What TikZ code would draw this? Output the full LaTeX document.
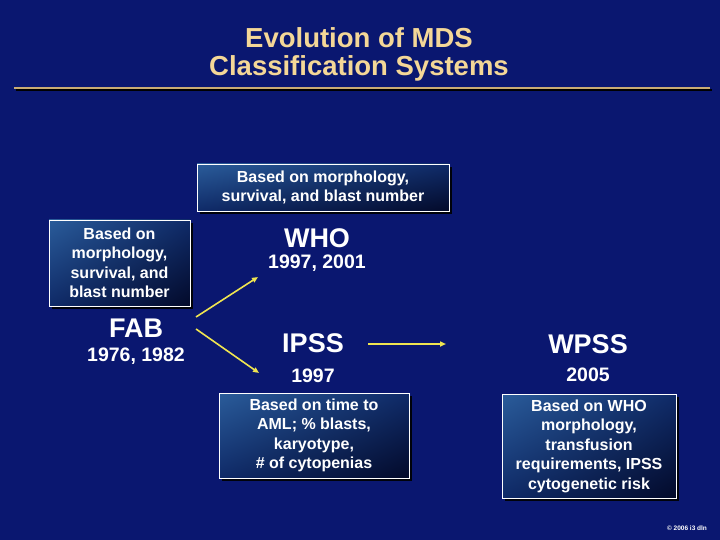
\documentclass[tikz,border=0pt]{standalone}
\usepackage{fontspec}
\setmainfont{Liberation Sans}
\usetikzlibrary{arrows.meta,shadows,shadings}
\definecolor{slideblue}{HTML}{0A1770}
\definecolor{boxlight}{HTML}{2A5C9A}
\definecolor{boxmid}{HTML}{0F2A68}
\definecolor{boxdark}{HTML}{030A2A}
\definecolor{titlegold}{HTML}{F4D797}
\definecolor{rulegold}{HTML}{C9AC74}
\definecolor{arrowyellow}{HTML}{F0E550}
\tikzset{
  title/.style={text=titlegold,font=\fontsize{27.5}{28}\selectfont\bfseries,align=center,inner sep=0},
  % the scheme names and their years
  scheme/.style={text=white,font=\fontsize{27}{30}\selectfont\bfseries,inner sep=0},
  year/.style={text=white,font=\fontsize{19.5}{22}\selectfont\bfseries,inner sep=0},
  % boxes: light in the upper left corner, nearly black in the lower right
  infobox/.style={rectangle,draw=white,line width=0.8pt,text=white,align=center,inner sep=0,
                  upper left=boxlight,upper right=boxmid,lower left=boxmid,lower right=boxdark,
                  font=\fontsize{16}{19.5}\selectfont\bfseries,
                  drop shadow={shadow xshift=3pt,shadow yshift=-3pt,fill=black,opacity=0.9}},
  flow/.style={-{Triangle[length=6pt,width=5pt]},draw=arrowyellow,line width=1.6pt},
  note/.style={text=white,font=\fontsize{6.5}{7}\selectfont\bfseries,inner sep=0},
}
\begin{document}
\begin{tikzpicture}[x=1pt,y=-1pt]
  \fill[slideblue] (0,0) rectangle (720,540);
  \useasboundingbox (0,0) rectangle (720,540);
  % title and its rule
  \node[title] (head) at (359,54) {Evolution of MDS\\Classification Systems};
  \draw[black,line width=2pt] (16,90) -- (712,90);
  \draw[rulegold,line width=2.4pt] (14,88) -- (710,88);

  \node[infobox,minimum width=252pt,minimum height=47pt] (whobox) at (323,187.5)
    {Based on morphology,\\ survival, and blast number};
  \node[infobox,minimum width=141pt,minimum height=86pt] (fabbox) at (119.5,263)
    {Based on\\morphology,\\survival, and\\blast number};
  \node[infobox,minimum width=190pt,minimum height=85pt] (ipssbox) at (314,435.5)
    {Based on time to\\ AML; \% blasts,\\karyotype,\\\# of cytopenias};
  \node[infobox,minimum width=174pt,minimum height=104pt] (wpssbox) at (589,446)
    {Based on WHO\\ morphology,\\transfusion\\requirements, IPSS\\cytogenetic risk};

  \node[scheme] (fab) at (136,328) {FAB};
  \node[year] (fabyr) at (136,356) {1976, 1982};
  \node[scheme] (who) at (317,238) {WHO};
  \node[year] (whoyr) at (317,263) {1997, 2001};
  \node[scheme] (ipss) at (313,343) {IPSS};
  \node[year] (ipssyr) at (313,375.5) {1997};
  \node[scheme] (wpss) at (588,344) {WPSS};
  \node[year] (wpssyr) at (588,375) {2005};

  % arrow ends
  \coordinate (fabup) at (196,317);
  \coordinate (fabdown) at (196,329);
  \coordinate (whoin) at (258,277);
  \coordinate (ipssin) at (259,373);
  \coordinate (ipssout) at (368,344);
  \coordinate (wpssin) at (446,344);
  \draw[flow] (fabup) -- (whoin);
  \draw[flow] (fabdown) -- (ipssin);
  \draw[flow] (ipssout) -- (wpssin);

  \node[note] (mark) at (687,528) {© 2006 i3 dln};
\end{tikzpicture}
\end{document}
